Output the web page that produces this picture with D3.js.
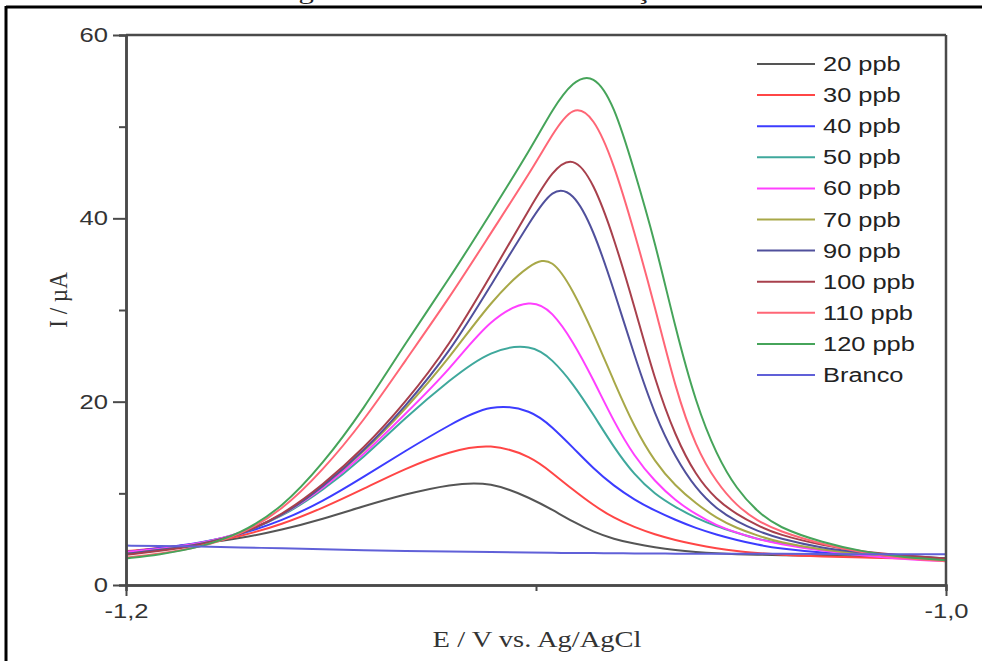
<!DOCTYPE html>
<html>
<head>
<meta charset="utf-8">
<script src="https://cdn.jsdelivr.net/npm/d3@7"></script>
<style>
  html, body { margin: 0; padding: 0; background: #fff; }
  svg { display: block; }
</style>
</head>
<body>
<div id="chart"></div>
<script>
// Curvas de calibração: E (V vs. Ag/AgCl) x I (µA)
const potential = [-1.200, -1.192, -1.182, -1.172, -1.162, -1.152, -1.142, -1.132, -1.121, -1.111,
  -1.101, -1.096, -1.091, -1.086, -1.081, -1.076, -1.071, -1.066, -1.061, -1.056,
  -1.051, -1.046, -1.041, -1.030, -1.020, -1.010, -1.000];

const i20  = [3.6, 4.0, 4.5, 5.1, 6.0, 7.2, 8.6, 9.9, 11.0, 11.3, 9.4, 8.2, 6.9, 5.8, 5.0, 4.5, 4.1, 3.8, 3.6, 3.45, 3.35, 3.3, 3.25, 3.2, 3.1, 3.0, 2.9];
const i30  = [3.7, 4.0, 4.5, 5.3, 6.6, 8.4, 10.5, 12.7, 14.6, 15.5, 14.0, 12.2, 10.4, 8.7, 7.3, 6.3, 5.5, 4.9, 4.4, 4.0, 3.7, 3.5, 3.3, 3.1, 3.0, 2.9, 2.7];
const i40  = [3.6, 4.0, 4.6, 5.5, 7.0, 9.1, 11.8, 14.6, 17.5, 19.8, 19.1, 17.2, 15.0, 12.7, 10.8, 9.3, 8.1, 7.1, 6.2, 5.5, 4.9, 4.4, 4.0, 3.5, 3.3, 3.05, 2.9];
const i50  = [3.5, 3.9, 4.5, 5.6, 7.4, 10.3, 13.9, 18.2, 22.4, 25.7, 26.3, 24.6, 22.0, 18.6, 15.0, 12.0, 9.9, 8.5, 7.3, 6.4, 5.7, 5.0, 4.6, 3.8, 3.3, 3.05, 2.9];
const i60  = [3.6, 3.9, 4.5, 5.6, 7.5, 10.5, 14.2, 18.6, 23.5, 29.2, 31.3, 29.8, 26.6, 22.4, 17.8, 14.0, 11.3, 9.2, 7.7, 6.5, 5.7, 5.0, 4.5, 3.7, 3.2, 2.8, 2.6];
const i70  = [3.4, 3.8, 4.4, 5.5, 7.5, 10.7, 14.5, 19.1, 24.8, 31.0, 35.3, 35.7, 32.2, 27.5, 22.2, 17.2, 13.4, 10.8, 8.9, 7.3, 6.2, 5.4, 4.7, 3.8, 3.4, 3.05, 2.9];
const i90  = [3.4, 3.8, 4.4, 5.5, 7.5, 10.7, 14.6, 19.4, 25.4, 32.7, 40.0, 43.3, 43.0, 38.8, 32.2, 25.0, 18.5, 13.9, 10.5, 8.3, 6.9, 5.9, 5.1, 4.0, 3.5, 3.2, 2.9];
const i100 = [3.3, 3.7, 4.3, 5.5, 7.6, 10.9, 14.9, 19.8, 26.2, 33.8, 41.5, 45.2, 46.9, 44.0, 37.9, 30.4, 22.3, 16.2, 11.9, 9.3, 7.7, 6.5, 5.5, 4.3, 3.6, 3.2, 2.9];
const i110 = [3.0, 3.4, 4.1, 5.5, 8.1, 12.5, 17.9, 24.4, 31.4, 38.4, 45.3, 49.2, 52.4, 51.2, 46.0, 38.5, 30.4, 21.4, 15.0, 11.2, 8.6, 7.0, 5.9, 4.4, 3.5, 2.9, 2.6];
const i120 = [2.9, 3.3, 4.1, 5.6, 8.4, 13.2, 19.2, 26.3, 33.5, 40.6, 47.8, 51.9, 55.0, 55.8, 52.5, 45.2, 37.5, 28.0, 19.8, 14.2, 10.4, 8.0, 6.3, 4.6, 3.6, 3.0, 2.7];
const iBranco = [4.3, 4.25, 4.2, 4.1, 4.0, 3.9, 3.8, 3.7, 3.65, 3.6, 3.55, 3.5, 3.5, 3.5, 3.45, 3.45, 3.45, 3.4, 3.4, 3.4, 3.4, 3.4, 3.4, 3.4, 3.35, 3.35, 3.35];

const labels = ["20 ppb", "30 ppb", "40 ppb", "50 ppb", "60 ppb", "70 ppb", "90 ppb", "100 ppb", "110 ppb", "120 ppb", "Branco"];
const currents = [i20, i30, i40, i50, i60, i70, i90, i100, i110, i120, iBranco];
const colors = ["#555555", "#ff4646", "#3c3cff", "#3fa89c", "#ff40ff", "#a8a848", "#50509c", "#a8404c", "#ff6676", "#46a45a", "#6060d8"];

const yMajor = [0, 20, 40, 60];
const yMinor = [10, 30, 50];
const xMajor = [-1.2, -1.0];
const xMinor = [-1.1];

const W = 982, H = 661;
const SX = 1.28; // a figura original está esticada na horizontal
const svg = d3.select("#chart").append("svg").attr("width", W).attr("height", H);

// moldura externa da página (cortada)
svg.append("line").attr("x1", 6).attr("x2", 6).attr("y1", 6).attr("y2", H).attr("stroke", "#000").attr("stroke-width", 3);
svg.append("line").attr("x1", 6).attr("x2", W).attr("y1", 7).attr("y2", 7).attr("stroke", "#000").attr("stroke-width", 3);
svg.append("text").attr("transform", `translate(273,-1) scale(${SX},1)`)
  .attr("font-family", "Liberation Serif").attr("font-size", 24).attr("fill", "#222")
  .text("Figura 11 – Curvas de calibração do Pb");

const x = d3.scaleLinear().domain([-1.2, -1.0]).range([126, 946]);
const y = d3.scaleLinear().domain([0, 60]).range([585, 35]);

const line = d3.line().x((d, i) => x(potential[i])).y(d => y(d)).curve(d3.curveBasis);

const plot = svg.append("g");
currents.forEach((s, k) => {
  plot.append("path").attr("d", line(s)).attr("fill", "none")
    .attr("stroke", colors[k]).attr("stroke-width", 2).attr("stroke-linejoin", "round");
});

// frame
const frameC = "#4a4a4a";
svg.append("line").attr("x1", x(-1.2)).attr("x2", x(-1.0)).attr("y1", y(60)).attr("y2", y(60)).attr("stroke", frameC).attr("stroke-width", 2.5);
svg.append("line").attr("x1", x(-1.0)).attr("x2", x(-1.0)).attr("y1", y(60)).attr("y2", y(0)).attr("stroke", frameC).attr("stroke-width", 2.5);

function styleAxis(g) {
  g.select(".domain").attr("stroke", frameC).attr("stroke-width", 2.5);
  g.selectAll(".tick line").attr("stroke", frameC).attr("stroke-width", 2);
  g.selectAll(".tick text").attr("font-family", "Liberation Sans").attr("font-size", 20).attr("fill", "#333");
}

const gyMinor = svg.append("g").attr("transform", `translate(${x(-1.2)},0)`)
  .call(d3.axisLeft(y).tickValues(yMinor).tickSize(7).tickFormat(""));
styleAxis(gyMinor);
const gy = svg.append("g").attr("transform", `translate(${x(-1.2)},0)`)
  .call(d3.axisLeft(y).tickValues(yMajor).tickSize(13).tickPadding(5).tickSizeOuter(0).tickFormat(d3.format("d")));
styleAxis(gy);
gy.selectAll(".tick text").attr("x", -18 / SX).attr("transform", `scale(${SX},1)`);

const fmtComma = d => d3.format(".1f")(d).replace(".", ",").replace("−", "-");
const gxMinor = svg.append("g").attr("transform", `translate(0,${y(0)})`)
  .call(d3.axisBottom(x).tickValues(xMinor).tickSize(6).tickFormat(""));
styleAxis(gxMinor);
const gx = svg.append("g").attr("transform", `translate(0,${y(0)})`)
  .call(d3.axisBottom(x).tickValues(xMajor).tickSize(11).tickPadding(8).tickSizeOuter(0).tickFormat(fmtComma));
styleAxis(gx);
gx.selectAll(".tick text").attr("transform", `scale(${SX},1)`);

// títulos dos eixos
svg.append("text").attr("transform", `translate(537,647) scale(1.24,1)`).attr("text-anchor", "middle")
  .attr("font-family", "Liberation Serif").attr("font-size", 23).attr("fill", "#333")
  .text("E / V vs. Ag/AgCl");
svg.append("text").attr("transform", `translate(67,300) rotate(-90) scale(1.1,1.2)`).attr("text-anchor", "middle")
  .attr("font-family", "Liberation Serif").attr("font-size", 21).attr("fill", "#333")
  .text("I / µA");

// legenda
const leg = svg.append("g");
labels.forEach((lab, k) => {
  const ly = 64 + k * 31.1;
  leg.append("line").attr("x1", 757).attr("x2", 815).attr("y1", ly).attr("y2", ly)
    .attr("stroke", colors[k]).attr("stroke-width", 2);
  leg.append("text").attr("transform", `translate(823,${ly + 7}) scale(1.27,1)`)
    .attr("font-family", "Liberation Sans").attr("font-size", 20).attr("fill", "#222")
    .text(lab);
});
</script>
</body>
</html>
